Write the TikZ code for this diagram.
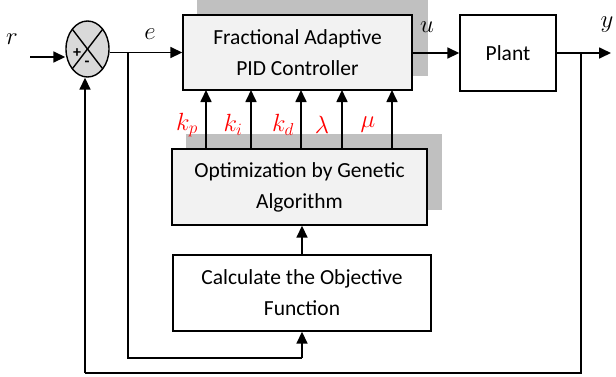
\documentclass[tikz,border=0pt]{standalone}
\usepackage{fontspec}
\setmainfont{Carlito}
\usetikzlibrary{arrows.meta,shapes.geometric}
\definecolor{boxgray}{HTML}{F2F2F2}
\definecolor{shadowgray}{HTML}{C0C0C0}
\definecolor{sumgray}{HTML}{D9D9D9}
\definecolor{lblred}{HTML}{FF0000}
\begin{document}
\begin{tikzpicture}[x=1pt,y=-1pt,
  wire/.style={line width=1.7pt},
  arr/.style={wire,-{Triangle[length=12pt,width=11pt]}},
  blockbox/.style={draw,line width=1.4pt,inner sep=0pt,align=center,
    font=\fontsize{21.5}{31}\selectfont},
  mathlbl/.style={font=\fontsize{24}{28}\selectfont},
  gain/.style={mathlbl,text=lblred}]
\useasboundingbox (0,0) rectangle (616,376);
% shadows
\fill[shadowgray] (197,0) rectangle (428,76);
\fill[shadowgray] (186,134) rectangle (442,210);
% blocks
\node[blockbox,fill=boxgray,minimum width=229pt,minimum height=75pt] (pid) at (297.5,52.5)
  {Fractional Adaptive\\PID Controller};
\node[blockbox,fill=white,minimum width=96pt,minimum height=76pt] (plant) at (508,53) {Plant};
\node[blockbox,fill=boxgray,minimum width=255pt,minimum height=76pt] (ga) at (299.5,187)
  {Optimization by Genetic\\Algorithm};
\node[blockbox,fill=white,minimum width=258pt,minimum height=76pt] (obj) at (302,293)
  {Calculate the Objective\\Function};
% summing junction
\node[ellipse,draw,line width=1.4pt,fill=sumgray,minimum width=43pt,minimum height=56pt,inner sep=0pt] (s) at (87.5,49) {};
\draw[line width=1.4pt] (s.center) ++(-15.2,-19.8) -- ++(30.4,39.6);
\draw[line width=1.4pt] (s.center) ++(15.2,-19.8) -- ++(-30.4,39.6);
\node[font=\bfseries\fontsize{16}{16}\selectfont,inner sep=0pt] (plus) at (77,53) {+};
\node[font=\bfseries\fontsize{16}{16}\selectfont,inner sep=0pt] (minus) at (87,64) {-};
% coordinates
\coordinate (rin) at (30,57);
\coordinate (eb) at (128,53);
\coordinate (ebot) at (128,358);
\coordinate (ebr) at (302,358);
\coordinate (yb) at (581,53);
\coordinate (yout) at (611,53);
\coordinate (ybot) at (581,373);
\coordinate (fbl) at (85,373);
% connectors
\draw[arr] (rin) -- (rin -| s.west);
\draw[arr] (pid.west -| s.east) -- (pid.west);
\draw[wire] (eb) -- (ebot) -- (ebr);
\draw[arr] (ebr) -- (obj.south -| ebr);
\draw[arr] (pid.east |- plant.west) -- (plant.west);
\draw[arr] (plant.east) -- (yout);
\draw[wire] (yb) -- (ybot) -- (fbl);
\draw[arr] (fbl) -- (s.south -| fbl);
\draw[arr] (obj.north -| ebr) -- (ga.south -| ebr);
\foreach \x in {206,251,301,342,392}
  \draw[arr] (\x,149) -- (\x,90);
% labels
\node[mathlbl] (lr) at (12,39) {$r$};
\node[mathlbl] (le) at (150,34) {$e$};
\node[mathlbl] (lu) at (427,27) {$u$};
\node[mathlbl] (ly) at (607,25) {$y$};
\node[gain] (lkp) at (187,125) {$k_p$};
\node[gain] (lki) at (233,125) {$k_i$};
\node[gain] (lkd) at (283,125) {$k_d$};
\node[gain] (llam) at (322,125) {$\lambda$};
\node[gain] (lmu) at (368,125) {$\mu$};
\end{tikzpicture}
\end{document}
